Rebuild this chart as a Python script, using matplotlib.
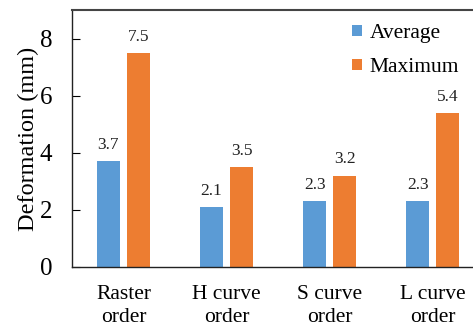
import matplotlib

matplotlib.use("Agg")
import matplotlib.pyplot as plt
import numpy as np

categories = ["Raster\norder", "H curve\norder", "S curve\norder", "L curve\norder"]
average = [3.7, 2.1, 2.3, 2.3]
maximum = [7.5, 3.5, 3.2, 5.4]
series_names = ["Average", "Maximum"]
yticks = [0, 2, 4, 6, 8]

plt.rcParams["font.family"] = ["Liberation Serif", "DejaVu Serif"]

fig = plt.figure(figsize=(4.73, 3.27), dpi=100)
ax = fig.add_axes([0.152, 0.1835, 0.848, 0.7855])

x = np.arange(len(categories))
width = 0.223
off = 0.146
b1 = ax.bar(x - off, average, width, color="#5B9BD5", label=series_names[0])
b2 = ax.bar(x + off, maximum, width, color="#ED7D31", label=series_names[1])

for bars, vals in ((b1, average), (b2, maximum)):
    for rect, v in zip(bars, vals):
        ax.annotate(f"{v:.1f}", (rect.get_x() + rect.get_width() / 2, v),
                    xytext=(0, 6), textcoords="offset points",
                    ha="center", va="bottom", fontsize=12.5, color="#222222")

ax.set_xlim(-0.5, 3.39)
ax.set_ylim(0, 9)
ax.set_yticks(yticks)
ax.set_xticks(x)
ax.set_xticklabels(categories, fontsize=15.5, linespacing=1.3)
ax.tick_params(axis="x", length=0, pad=13)
ax.tick_params(axis="y", direction="in", length=6, pad=14, labelsize=18)
ax.set_ylabel("Deformation (mm)", fontsize=17.5, labelpad=1)

ax.spines["right"].set_visible(False)
ax.spines["top"].set_visible(True)
ax.spines["top"].set_color("#444444")
ax.spines["top"].set_linewidth(1.5)
ax.spines["top"].set_zorder(10)
for s in ("left", "bottom"):
    ax.spines[s].set_color("#222222")
    ax.spines[s].set_linewidth(1.0)

ax.legend(loc="upper right", bbox_to_anchor=(1.0, 1.0), frameon=False,
          fontsize=15.5, handlelength=0.45, handleheight=0.45, handletextpad=0.35,
          labelspacing=0.7, borderaxespad=0.25)

fig.savefig("out.png", dpi=100)
